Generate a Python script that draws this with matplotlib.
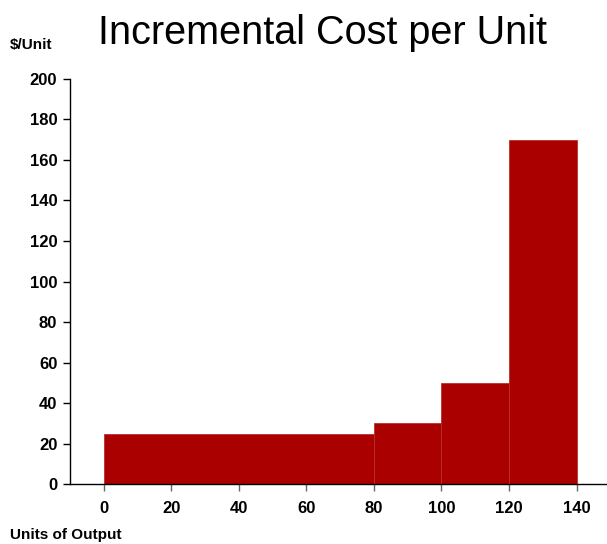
import matplotlib.pyplot as plt

# step data: start of each output band, width, incremental cost
band_start = [0, 80, 100, 120]
band_width = [80, 20, 20, 20]
cost = [25, 30, 50, 170]

x_ticks = [0, 20, 40, 60, 80, 100, 120, 140]
y_ticks = [0, 20, 40, 60, 80, 100, 120, 140, 160, 180, 200]

plt.rcParams['font.family'] = ['Liberation Sans', 'DejaVu Sans']

fig = plt.figure(figsize=(6.07, 5.44), dpi=100)
ax = fig.add_axes([0.115, 0.110, 0.885, 0.745])

ax.bar(band_start, cost, width=band_width, align='edge',
       color='#aa0000', edgecolor='#b83030', linewidth=0.6)

ax.set_xlim(-10, 149)
ax.set_ylim(0, 200)
ax.set_xticks(x_ticks)
ax.set_yticks(y_ticks)

for s in ['top', 'right']:
    ax.spines[s].set_visible(False)
ax.spines['left'].set_linewidth(1)
ax.spines['bottom'].set_linewidth(1)

ax.tick_params(axis='y', length=5, width=1, pad=4, labelsize=12)
ax.tick_params(axis='x', length=5, width=1, color='#666666', pad=7, labelsize=12)
for lab in ax.get_xticklabels() + ax.get_yticklabels():
    lab.set_fontweight('bold')

fig.text(0.531, 0.94, 'Incremental Cost per Unit', ha='center', va='center',
         fontsize=28.5)
fig.text(0.016, 0.918, '$/Unit', ha='left', va='center', fontsize=11,
         fontweight='bold')
fig.text(0.016, 0.016, 'Units of Output', ha='left', va='center', fontsize=11,
         fontweight='bold')

fig.savefig('out.png', dpi=100)
